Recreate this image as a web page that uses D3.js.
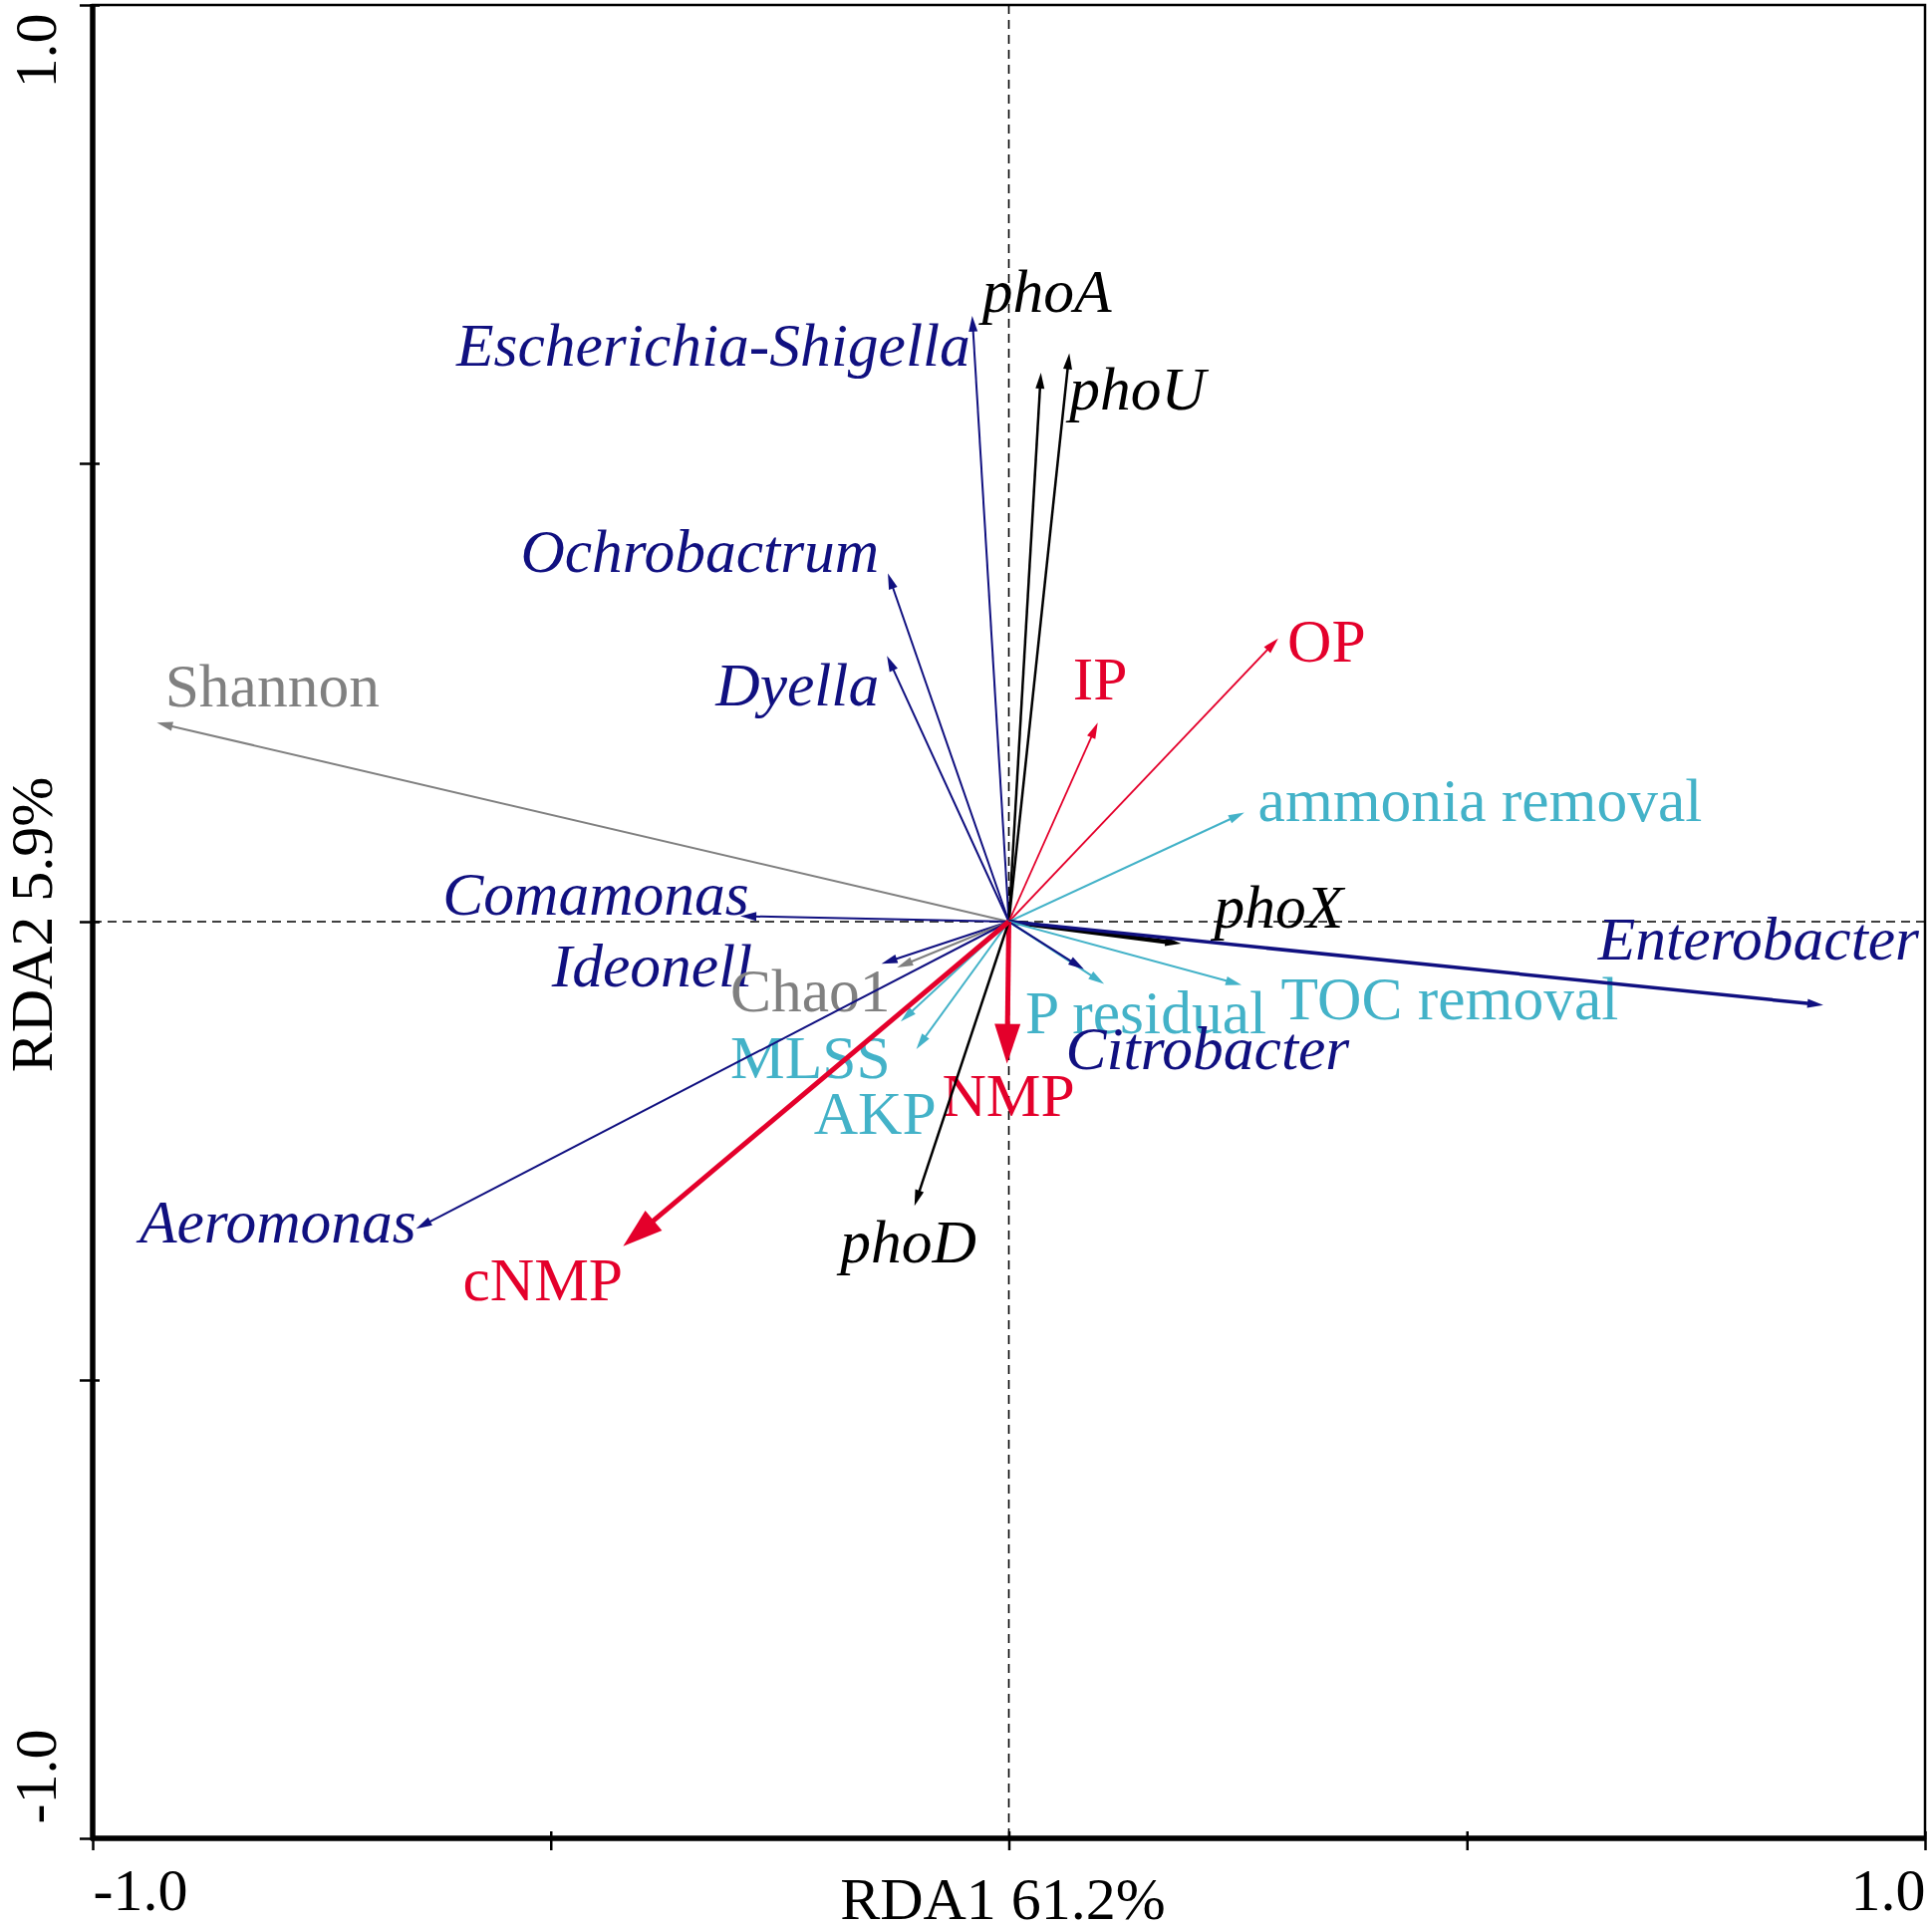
<!DOCTYPE html>
<html>
<head>
<meta charset="utf-8">
<script src="https://cdn.jsdelivr.net/npm/d3@7"></script>
<style>
  body { margin: 0; background: #fff; }
  text { font-family: "Liberation Serif", "Times New Roman", serif; }
</style>
</head>
<body>
<svg id="chart" width="1939" height="1934"></svg>
<script>
// arrow tips (RDA1, RDA2)
const names = ["Escherichia-Shigella", "phoA", "phoU", "Ochrobactrum", "Dyella", "Shannon",
  "IP", "OP", "ammonia removal", "Comamonas", "phoX", "Enterobacter", "Ideonell", "Chao1",
  "TOC removal", "P residual", "Citrobacter", "MLSS", "NMP", "AKP", "Aeromonas", "phoD", "cNMP"]
const groups = ["species", "gene", "gene", "species", "species", "diversity",
  "phosphorus", "phosphorus", "env", "species", "gene", "species", "species", "diversity",
  "env", "env", "species", "env", "nmp", "env", "species", "gene", "nmp"]
const rda1 = [-0.040, 0.066, 0.035, -0.132, -0.133, -0.930,
  0.097, 0.294, 0.257, -0.293, 0.188, 0.889, -0.139, -0.122,
  0.254, 0.104, 0.082, -0.118, -0.002, -0.101, -0.647, -0.103, -0.421]
const rda2 = [0.661, 0.620, 0.599, 0.380, 0.290, 0.217,
  0.217, 0.309, 0.119, 0.006, -0.024, -0.091, -0.046, -0.050,
  -0.069, -0.068, -0.052, -0.109, -0.155, -0.139, -0.335, -0.310, -0.354]
// where each label sits (left end of baseline), same units
const labelX = [-0.603, -0.029, 0.066, -0.533, -0.320, -0.921,
  0.070, 0.304, 0.272, -0.618, 0.224, 0.643, -0.499, -0.304,
  0.297, 0.018, 0.062, -0.304, -0.073, -0.213, -0.949, -0.184, -0.596]
const labelY = [0.606, 0.665, 0.559, 0.382, 0.236, 0.235,
  0.242, 0.284, 0.110, 0.008, -0.006, -0.041, -0.071, -0.098,
  -0.107, -0.122, -0.161, -0.171, -0.212, -0.231, -0.350, -0.372, -0.413]

const ticks = [-1, -0.5, 0, 0.5, 1]
const xTitle = "RDA1 61.2%", yTitle = "RDA2 5.9%"

const style = {
  species:    { color: "#101080", width: 2,   italic: true,  head: [16, 4.5] },
  gene:       { color: "#000000", width: 2.5, italic: true,  head: [16, 4.5] },
  env:        { color: "#43b2c8", width: 2,   italic: false, head: [16, 4.5] },
  phosphorus: { color: "#e4002b", width: 1.8, italic: false, head: [16, 4.5] },
  nmp:        { color: "#e4002b", width: 5,   italic: false, head: [40, 13] },
  diversity:  { color: "#808080", width: 2,   italic: false, head: [16, 4.5] }
}
const heavy = { "Enterobacter": 3.5, "phoX": 4.5 }
const fontSize = 61.5

let data = names.map((n, i) => ({
  name: n, group: groups[i], x: rda1[i], y: rda2[i], lx: labelX[i], ly: labelY[i]
}))

let svg = d3.select("#chart")
let pLeft = 93, pRight = 1932, pTop = 5, pBottom = 1845

let x = d3.scaleLinear().domain([-1, 1]).range([pLeft, pRight])
let y = d3.scaleLinear().domain([-1, 1]).range([pBottom, pTop])

// zero lines
svg.append("line")
  .attr("x1", x(0)).attr("x2", x(0)).attr("y1", pTop).attr("y2", pBottom)
  .attr("stroke", "#000").attr("stroke-width", 1.6).attr("stroke-dasharray", "9,6")
svg.append("line")
  .attr("x1", pLeft).attr("x2", pRight).attr("y1", y(0)).attr("y2", y(0))
  .attr("stroke", "#000").attr("stroke-width", 1.6).attr("stroke-dasharray", "9,6")

// labels first, arrows are drawn over them
svg.append("g").selectAll("text")
  .data(data).enter()
  .append("text")
  .attr("x", d => x(d.lx))
  .attr("y", d => y(d.ly))
  .attr("font-size", fontSize)
  .attr("font-style", d => style[d.group].italic ? "italic" : "normal")
  .attr("fill", d => style[d.group].color)
  .text(d => d.name)

let arrows = svg.append("g").selectAll("g")
  .data(data).enter()
  .append("g")

arrows.append("line")
  .attr("x1", x(0)).attr("y1", y(0))
  .attr("x2", d => {
    let a = Math.atan2(y(d.y) - y(0), x(d.x) - x(0))
    return x(d.x) - Math.cos(a) * style[d.group].head[0] * 0.7
  })
  .attr("y2", d => {
    let a = Math.atan2(y(d.y) - y(0), x(d.x) - x(0))
    return y(d.y) - Math.sin(a) * style[d.group].head[0] * 0.7
  })
  .attr("stroke", d => style[d.group].color)
  .attr("stroke-width", d => heavy[d.name] || style[d.group].width)

arrows.append("path")
  .attr("d", d => {
    let tx = x(d.x), ty = y(d.y)
    let a = Math.atan2(ty - y(0), tx - x(0))
    let [len, hw] = style[d.group].head
    let bx = tx - Math.cos(a) * len, by = ty - Math.sin(a) * len
    let px = -Math.sin(a) * hw, py = Math.cos(a) * hw
    return `M${tx},${ty}L${bx + px},${by + py}L${bx - px},${by - py}Z`
  })
  .attr("fill", d => style[d.group].color)

// axes
let xAxis = d3.axisBottom(x).tickValues(ticks).tickSize(12)
  .tickFormat(d => d == -1 ? "-1.0" : d == 1 ? "1.0" : "")
let gx = svg.append("g").attr("transform", `translate(0,${pBottom})`).call(xAxis)
gx.select(".domain").remove()
gx.selectAll(".tick line").attr("y1", -7).attr("stroke-width", 2.5)
gx.selectAll(".tick text")
  .attr("font-size", 60).attr("font-family", "Liberation Serif")
  .attr("y", 72).attr("dy", 0)
  .attr("text-anchor", d => d == -1 ? "start" : "end")

let yAxis = d3.axisLeft(y).tickValues(ticks).tickSize(13)
  .tickFormat(d => d == -1 ? "-1.0" : d == 1 ? "1.0" : "")
let gy = svg.append("g").attr("transform", `translate(${pLeft},0)`).call(yAxis)
gy.select(".domain").remove()
gy.selectAll(".tick line").attr("x1", 7).attr("stroke-width", 2.5)
gy.selectAll(".tick text")
  .attr("font-size", 60).attr("font-family", "Liberation Serif")
  .attr("x", null).attr("dy", 0)
  .attr("transform", d => `translate(-37,${d == 1 ? 8 : -15}) rotate(-90)`)
  .attr("text-anchor", d => d == 1 ? "end" : "start")

// frame: thin top/right, heavy left/bottom
svg.append("rect")
  .attr("x", pLeft).attr("y", pTop).attr("width", pRight - pLeft).attr("height", pBottom - pTop)
  .attr("fill", "none").attr("stroke", "#000").attr("stroke-width", 2.5)
svg.append("line")
  .attr("x1", pLeft).attr("x2", pLeft).attr("y1", pTop - 1).attr("y2", pBottom + 2)
  .attr("stroke", "#000").attr("stroke-width", 5.5)
svg.append("line")
  .attr("x1", pLeft - 2).attr("x2", pRight + 1).attr("y1", pBottom).attr("y2", pBottom)
  .attr("stroke", "#000").attr("stroke-width", 5.5)

svg.append("text")
  .attr("x", (pLeft + pRight) / 2 - 6).attr("y", 1926)
  .attr("text-anchor", "middle").attr("font-size", 60)
  .text(xTitle)
svg.append("text")
  .attr("transform", `translate(52,${(pTop + pBottom) / 2 + 3}) rotate(-90)`)
  .attr("text-anchor", "middle").attr("font-size", 60)
  .text(yTitle)
</script>
</body>
</html>
